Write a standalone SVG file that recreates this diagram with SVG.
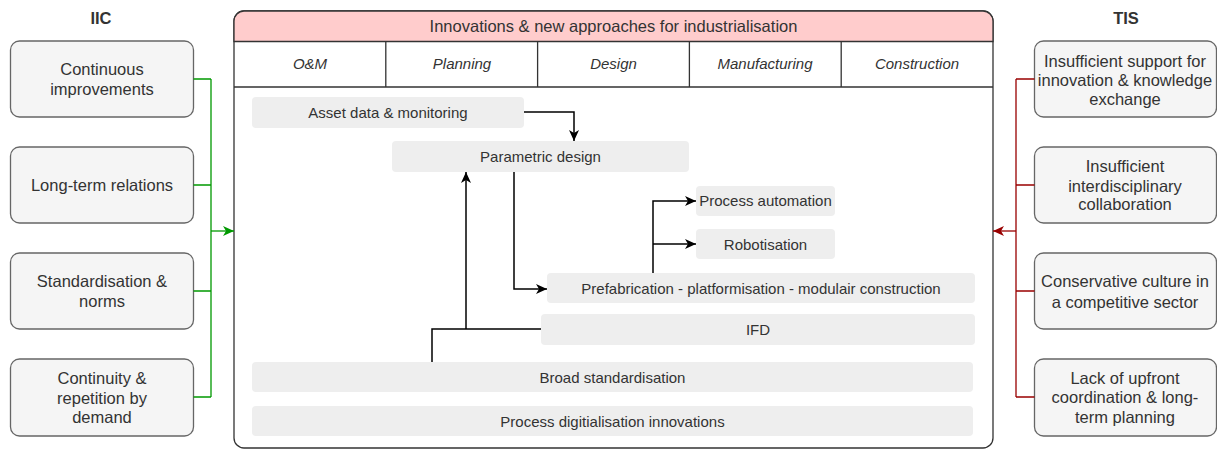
<svg xmlns="http://www.w3.org/2000/svg" width="1217" height="450" viewBox="0 0 1217 450">
<style>
text{font-family:"Liberation Sans",Arial,sans-serif;fill:#333333;text-anchor:middle}
.side{fill:#f5f5f5;stroke:#666666;stroke-width:1.3}
.st{font-size:16.5px}
.inner{fill:#eeeeee}
.it{font-size:15px}
.col{font-size:15px;font-style:italic}
.hd{font-size:16.5px;font-weight:bold}
.blk{fill:none;stroke:#000000;stroke-width:1.5}
.grn{fill:none;stroke:#009900;stroke-width:1.3}
.red{fill:none;stroke:#990000;stroke-width:1.3}
</style>
<defs>
<marker id="ab" markerUnits="userSpaceOnUse" markerWidth="12" markerHeight="12" viewBox="0 0 12 12" refX="11.5" refY="6" orient="auto"><path d="M0.5,1 L11.5,6 L0.5,11 L3.5,6 Z" fill="#000000"/></marker>
<marker id="ag" markerUnits="userSpaceOnUse" markerWidth="12" markerHeight="12" viewBox="0 0 12 12" refX="11.5" refY="6" orient="auto"><path d="M0.5,1 L11.5,6 L0.5,11 L3.5,6 Z" fill="#009900"/></marker>
<marker id="ar" markerUnits="userSpaceOnUse" markerWidth="12" markerHeight="12" viewBox="0 0 12 12" refX="11.5" refY="6" orient="auto"><path d="M0.5,1 L11.5,6 L0.5,11 L3.5,6 Z" fill="#990000"/></marker>
</defs>

<rect width="1217" height="450" fill="#ffffff"/>

<text class="hd" x="101" y="24">IIC</text>
<text class="hd" x="1126" y="24">TIS</text>

<g id="container">
<rect x="234" y="11" width="759" height="437" rx="10" fill="#ffffff" stroke="#333333" stroke-width="1.3"/>
<path d="M234,41.5 V21 A10,10 0 0 1 244,11 H983 A10,10 0 0 1 993,21 V41.5 Z" fill="#ffcccc" stroke="#333333" stroke-width="1.3"/>
<text class="st" x="613.5" y="32">Innovations &amp; new approaches for industrialisation</text>
<path d="M234,87 H993 M385.8,41.5 V87 M537.6,41.5 V87 M689.4,41.5 V87 M841.2,41.5 V87" stroke="#333333" stroke-width="1.3" fill="none"/>
<text class="col" x="310" y="69">O&amp;M</text>
<text class="col" x="462" y="69">Planning</text>
<text class="col" x="613.5" y="69">Design</text>
<text class="col" x="765" y="69">Manufacturing</text>
<text class="col" x="917" y="69">Construction</text>
</g>

<g id="iic1"><rect class="side" x="10.5" y="41" width="183" height="76" rx="9"/><text class="st" x="102" y="75">Continuous</text><text class="st" x="102" y="95">improvements</text></g>
<g id="iic2"><rect class="side" x="10.5" y="147" width="183" height="76" rx="9"/><text class="st" x="102" y="191">Long-term relations</text></g>
<g id="iic3"><rect class="side" x="10.5" y="253" width="183" height="76" rx="9"/><text class="st" x="102" y="287">Standardisation &amp;</text><text class="st" x="102" y="307">norms</text></g>
<g id="iic4"><rect class="side" x="10.5" y="359" width="183" height="77" rx="9"/><text class="st" x="102" y="384">Continuity &amp;</text><text class="st" x="102" y="404">repetition by</text><text class="st" x="102" y="423">demand</text></g>

<g id="tis1"><rect class="side" x="1034.5" y="41" width="182" height="76" rx="9"/><text class="st" x="1125" y="67">Insufficient support for</text><text class="st" x="1125" y="86">innovation &amp; knowledge</text><text class="st" x="1125" y="105">exchange</text></g>
<g id="tis2"><rect class="side" x="1034.5" y="147" width="182" height="76" rx="9"/><text class="st" x="1125" y="172">Insufficient</text><text class="st" x="1125" y="192">interdisciplinary</text><text class="st" x="1125" y="210">collaboration</text></g>
<g id="tis3"><rect class="side" x="1034.5" y="253" width="182" height="76" rx="9"/><text class="st" x="1125" y="287">Conservative culture in</text><text class="st" x="1125" y="308">a competitive sector</text></g>
<g id="tis4"><rect class="side" x="1034.5" y="359" width="182" height="77" rx="9"/><text class="st" x="1125" y="384">Lack of upfront</text><text class="st" x="1125" y="403">coordination &amp; long-</text><text class="st" x="1125" y="423">term planning</text></g>

<g id="asset"><rect class="inner" x="252" y="97" width="272" height="31" rx="4"/><text class="it" x="388" y="118">Asset data &amp; monitoring</text></g>
<g id="parametric"><rect class="inner" x="392" y="141" width="297" height="31" rx="4"/><text class="it" x="540.5" y="162">Parametric design</text></g>
<g id="automation"><rect class="inner" x="696" y="186" width="139" height="30" rx="4"/><text class="it" x="765.5" y="206">Process automation</text></g>
<g id="robot"><rect class="inner" x="696" y="229" width="139" height="30" rx="4"/><text class="it" x="765.5" y="249.5">Robotisation</text></g>
<g id="prefab"><rect class="inner" x="547" y="273" width="428" height="30" rx="4"/><text class="it" x="761" y="293.5">Prefabrication - platformisation - modulair construction</text></g>
<g id="ifd"><rect class="inner" x="541" y="314" width="434" height="31" rx="4"/><text class="it" x="758" y="335">IFD</text></g>
<g id="broad"><rect class="inner" x="252" y="362" width="721" height="30" rx="4"/><text class="it" x="612.5" y="382.5">Broad standardisation</text></g>
<g id="digital"><rect class="inner" x="252" y="406" width="721" height="30" rx="4"/><text class="it" x="612.5" y="426.5">Process digitialisation innovations</text></g>

<g id="connectors">
<path class="blk" d="M524,112 H574 V141" marker-end="url(#ab)"/>
<path class="blk" d="M514,172 V289 H547" marker-end="url(#ab)"/>
<path class="blk" d="M432,362 V329 H541"/>
<path class="blk" d="M466,329 V172" marker-end="url(#ab)"/>
<path class="blk" d="M653,273 V201 H696" marker-end="url(#ab)"/>
<path class="blk" d="M653,244 H696" marker-end="url(#ab)"/>
<path class="grn" d="M193.5,79 H211 M193.5,185 H211 M193.5,291 H211 M193.5,397 H211 M211,79 V397"/>
<path class="grn" d="M211,231 H234" marker-end="url(#ag)"/>
<path class="red" d="M1034.5,79 H1016 M1034.5,185 H1016 M1034.5,291 H1016 M1034.5,397 H1016 M1016,79 V397"/>
<path class="red" d="M1016,231 H993" marker-end="url(#ar)"/>
</g>
</svg>
